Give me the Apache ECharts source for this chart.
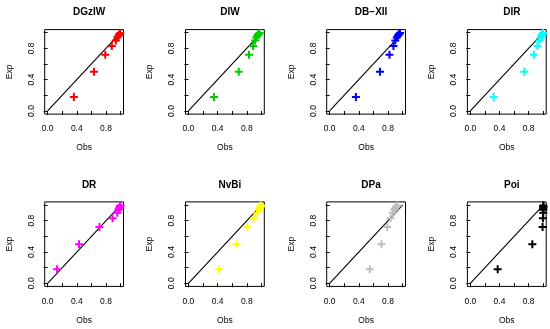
<!DOCTYPE html>
<html>
<head>
<meta charset="utf-8">
<script src="https://cdn.jsdelivr.net/npm/echarts@6/dist/echarts.min.js"></script>
<style>html,body{margin:0;padding:0;background:#fff}#c{width:550px;height:329px}</style>
</head>
<body>
<div id="c"></div>
<script>
// ---- data ----
const panelTitles = ['DGzIW', 'DIW', 'DB\u2212XII', 'DIR', 'DR', 'NvBi', 'DPa', 'Poi'];
const panelColors = ['#FF0000', '#00CD00', '#0000FF', '#00FFFF', '#FF00FF', '#FFFF00', '#BEBEBE', '#000000'];
const expValues = [0.18, 0.50, 0.72, 0.83, 0.90, 0.94, 0.96, 0.975, 0.985, 0.995];
const obsDGzIW = [0.36, 0.635, 0.79, 0.88, 0.935, 0.955, 0.97, 0.98, 0.99, 0.995];
const obsDIW   = [0.35, 0.69, 0.83, 0.885, 0.915, 0.93, 0.945, 0.955, 0.965, 0.975];
const obsDBXII = [0.36, 0.69, 0.82, 0.875, 0.90, 0.92, 0.935, 0.945, 0.955, 0.965];
const obsDIR   = [0.32, 0.74, 0.87, 0.92, 0.95, 0.965, 0.975, 0.985, 0.99, 0.995];
const obsDR    = [0.13, 0.43, 0.71, 0.89, 0.955, 0.97, 0.98, 0.99, 0.995, 0.998];
const obsNvBi  = [0.42, 0.66, 0.81, 0.90, 0.945, 0.965, 0.975, 0.985, 0.99, 0.995];
const obsDPa   = [0.55, 0.71, 0.79, 0.835, 0.865, 0.885, 0.90, 0.91, 0.92, 0.93];
const obsPoi   = [0.375, 0.85, 0.99, 0.995, 1.0, 1.0, 1.0, 1.0, 1.0, 1.0];
const obsAll = [obsDGzIW, obsDIW, obsDBXII, obsDIR, obsDR, obsNvBi, obsDPa, obsPoi];
const tickValues = [0, 0.2, 0.4, 0.6, 0.8, 1.0];
const tickLabels = [0, 0.4, 0.8];
const refLine = [[0, 0], [1, 1]];

// ---- layout ----
const FONT = 'Liberation Sans, Arial, Helvetica, sans-serif';
const colLefts = [44.7, 185.5, 326.7, 467.4];
const rowTops = [29.6, 201.9];
const boxW = 78.8, boxH = 84.5;
const plusPath = 'path://M3,0H5V3H8V5H5V8H3V5H0V3H3Z';

const grids = [], xAxes = [], yAxes = [], series = [], titles = [];
for (let i = 0; i < 8; i++) {
  const r = Math.floor(i / 4), c = i % 4;
  const left = colLefts[c], top = rowTops[r];
  grids.push({left: left, top: top, width: boxW, height: boxH, show: true,
    borderColor: '#000', borderWidth: 1, backgroundColor: 'transparent'});
  xAxes.push({gridIndex: i, type: 'value', min: -0.04, max: 1.04,
    splitLine: {show: false}, axisLine: {show: false},
    axisTick: {show: true, length: 4, customValues: tickValues, lineStyle: {color: '#000', width: 1}},
    axisLabel: {customValues: tickLabels, formatter: v => v.toFixed(1), fontSize: 8.5, color: '#000', fontFamily: FONT, margin: 10.5},
    name: 'Obs', nameLocation: 'middle', nameGap: 29.5,
    nameTextStyle: {fontSize: 8.5, color: '#000', fontFamily: FONT}});
  yAxes.push({gridIndex: i, type: 'value', min: -0.04, max: 1.04,
    splitLine: {show: false}, axisLine: {show: false},
    axisTick: {show: true, length: 4, customValues: tickValues, lineStyle: {color: '#000', width: 1}},
    axisLabel: {customValues: tickLabels, formatter: v => v.toFixed(1), fontSize: 8.5, color: '#000', fontFamily: FONT, margin: 9, rotate: 90},
    name: 'Exp', nameLocation: 'middle', nameGap: 31,
    nameTextStyle: {fontSize: 8.5, color: '#000', fontFamily: FONT}});
  series.push({type: 'line', xAxisIndex: i, yAxisIndex: i, data: refLine, symbol: 'none', silent: true,
    lineStyle: {color: '#000', width: 1.1}, z: 1, animation: false});
  series.push({type: 'scatter', xAxisIndex: i, yAxisIndex: i,
    data: obsAll[i].map((x, k) => [x, expValues[k]]),
    symbol: plusPath, symbolSize: 8, itemStyle: {color: panelColors[i], opacity: 1}, z: 2, animation: false});
  titles.push({text: panelTitles[i], left: left + boxW / 2, top: top - 27, textAlign: 'center',
    textStyle: {fontSize: 10, fontWeight: 'bold', color: '#000', fontFamily: FONT}});
}

const chart = echarts.init(document.getElementById('c'), null, {renderer: 'canvas'});
chart.setOption({
  backgroundColor: '#fff', animation: false,
  title: titles, grid: grids, xAxis: xAxes, yAxis: yAxes, series: series
});
</script>
</body>
</html>
